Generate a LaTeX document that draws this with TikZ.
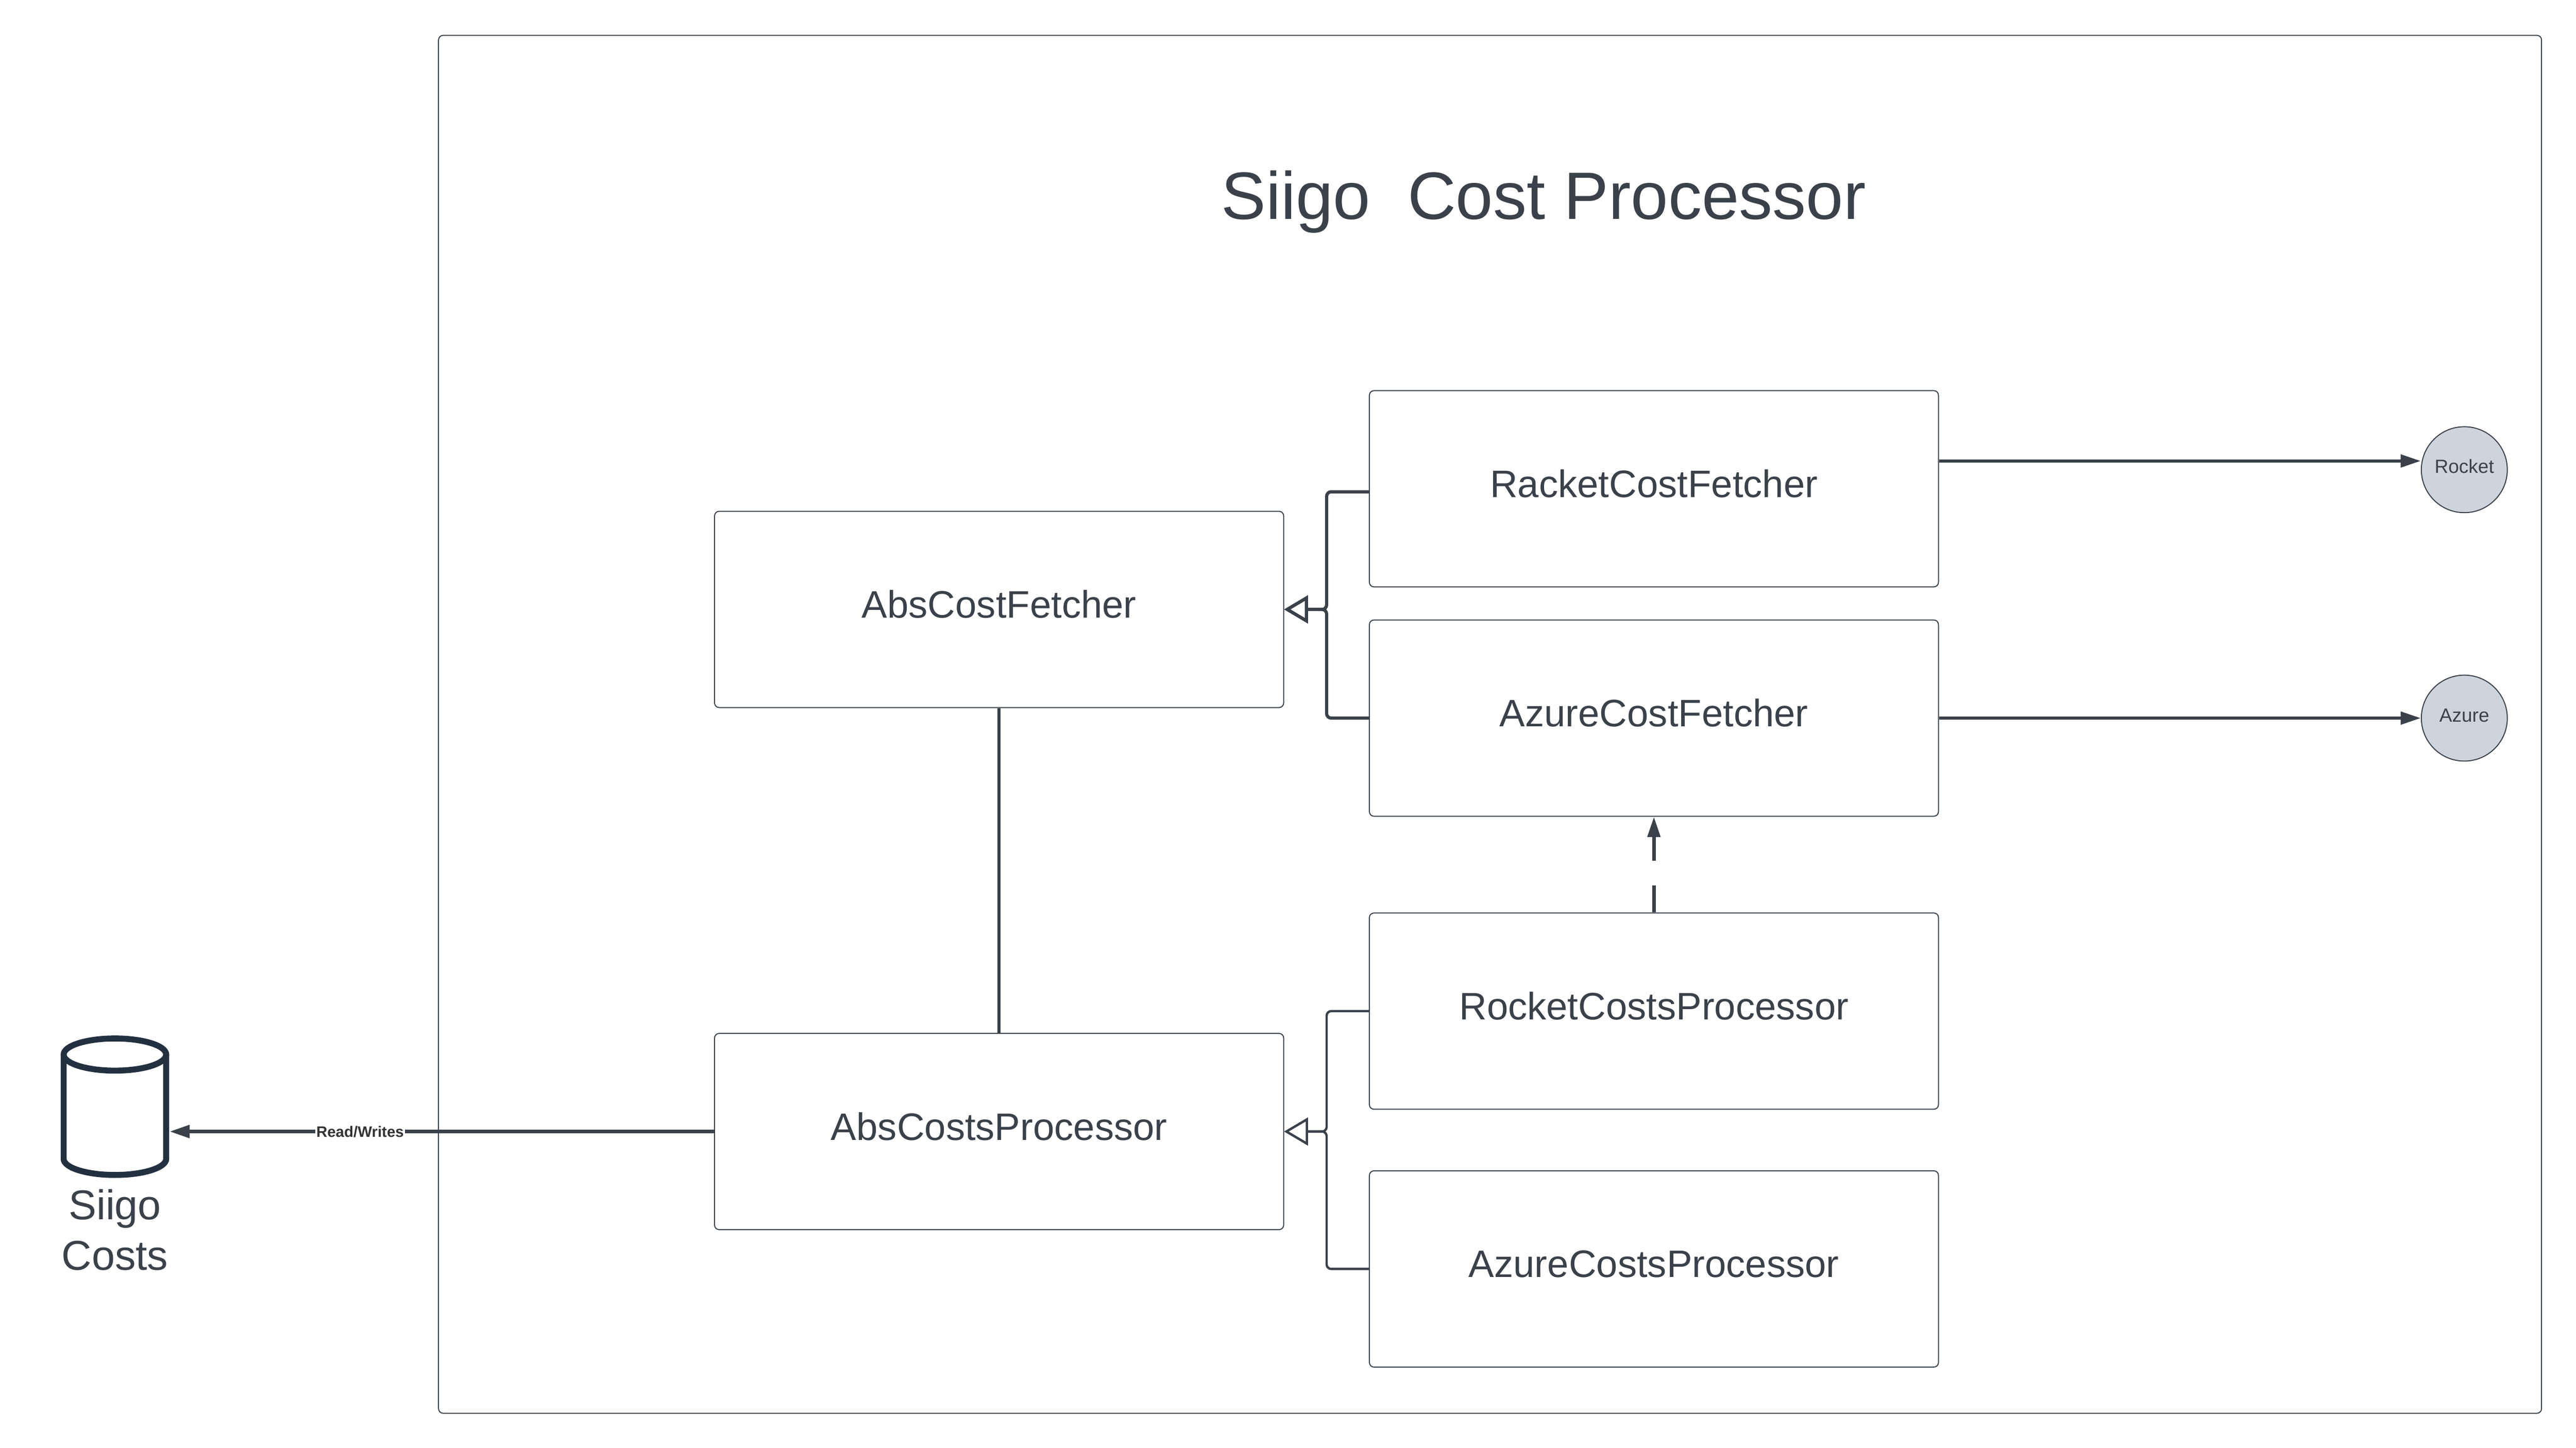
\documentclass[tikz,border=0pt]{standalone}
\usepackage{fontspec}
\setmainfont{Liberation Sans}
\usepackage{xcolor}
\usetikzlibrary{positioning,calc,arrows.meta}
\definecolor{inkgrey}{HTML}{3A414A}
\definecolor{dbnavy}{HTML}{233040}
\definecolor{extfill}{HTML}{CDD4DC}
\tikzset{
    classbox/.style={draw=inkgrey, line width=0.022cm, rounded corners=0.1cm, inner sep=0pt,
        minimum width=12.38cm, text height=2.32cm, text depth=1.95cm,
        text=inkgrey, font=\fontsize{23.7}{28}\selectfont},
    extcircle/.style={circle, draw=inkgrey, fill=extfill, line width=0.022cm, inner sep=0pt,
        minimum size=1.87cm, text height=0.5cm, text depth=0.34cm,
        text=inkgrey, font=\fontsize{11.8}{14}\selectfont},
    flow/.style={draw=inkgrey, line width=0.075cm, -{Triangle[length=0.44cm,width=0.27cm]}},
    inherit/.style={draw=inkgrey, line width=0.07cm, rounded corners=0.1cm},
    inherittip/.style={-{Triangle[open,fill=white,length=0.52cm,width=0.6cm]}},
    dbline/.style={draw=dbnavy, line width=0.13cm}
}
\begin{document}
\begin{tikzpicture}
    \useasboundingbox (0,0) rectangle (56.04,31.5);
    \node[draw=inkgrey, line width=0.022cm, rounded corners=0.1cm, minimum width=45.75cm, minimum height=29.98cm, inner sep=0pt] (panel) at (32.415,15.74) {};
    \node[text=inkgrey, font=\fontsize{41.5}{50}\selectfont] (title) at (33.58,27.11) {Siigo\ \ Cost Processor};

    \node[classbox] (absfetcher) at (21.735,18.24) {AbsCostFetcher};
    \node[classbox] (absproc) at (21.735,6.88) {AbsCostsProcessor};
    \node[classbox] (racket) at (35.98,20.865) {RacketCostFetcher};
    \node[classbox] (azurefetcher) at (35.98,15.875) {AzureCostFetcher};
    \node[classbox] (rocketproc) at (35.98,9.50) {RocketCostsProcessor};
    \node[classbox] (azureproc) at (35.98,3.89) {AzureCostsProcessor};

    \node[extcircle] (rocket) at (53.61,21.28) {Rocket};
    \node[extcircle] (azure) at (53.61,15.875) {Azure};

    \node[minimum width=2.36cm, minimum height=3.11cm, inner sep=0pt] (siigodb) at (2.5,7.42) {};
    \draw[dbline] (1.385,8.555) -- (1.385,6.285) arc (180:360:1.115 and 0.35) -- (3.615,8.555);
    \draw[dbline] (2.5,8.555) ellipse (1.115 and 0.35);
    \node[below=0.11cm of siigodb, align=center, text=inkgrey, font=\fontsize{25.8}{31.3}\selectfont] (dblabel) {Siigo\\Costs};

    \coordinate (fetcherjoin) at (28.86,18.24);
    \coordinate (procjoin) at (28.86,6.88);
    \coordinate (racketin) at ($(racket.west)+(0,-0.065)$);
    \coordinate (racketout) at ($(racket.east)+(0,0.605)$);

    \draw[inherit, inherittip] (racketin) -| (fetcherjoin) -- (absfetcher.east);
    \draw[inherit, inherittip] (azurefetcher.west) -| (fetcherjoin) -- (absfetcher.east);
    \draw[inherit, line width=0.05cm, inherittip] (rocketproc.west) -| (procjoin) -- (absproc.east);
    \draw[inherit, line width=0.05cm, inherittip] (azureproc.west) -| (procjoin) -- (absproc.east);

    \draw[draw=inkgrey, line width=0.07cm] (absfetcher.south) -- (absproc.north);
    \draw[flow] (racketout) -- (racketout -| rocket.west);
    \draw[flow] (azurefetcher.east) -- (azure.west);
    \draw[flow, dash pattern=on 0.59cm off 0.54cm] (rocketproc.north) -- (azurefetcher.south);
    \draw[flow, line width=0.085cm] (absproc.west) -- (absproc.west -| siigodb.east) node[pos=0.65, fill=white, inner sep=0.02cm, text=black!80, font=\bfseries\fontsize{9.4}{11}\selectfont] (rwlabel) {Read/Writes};
\end{tikzpicture}
\end{document}
